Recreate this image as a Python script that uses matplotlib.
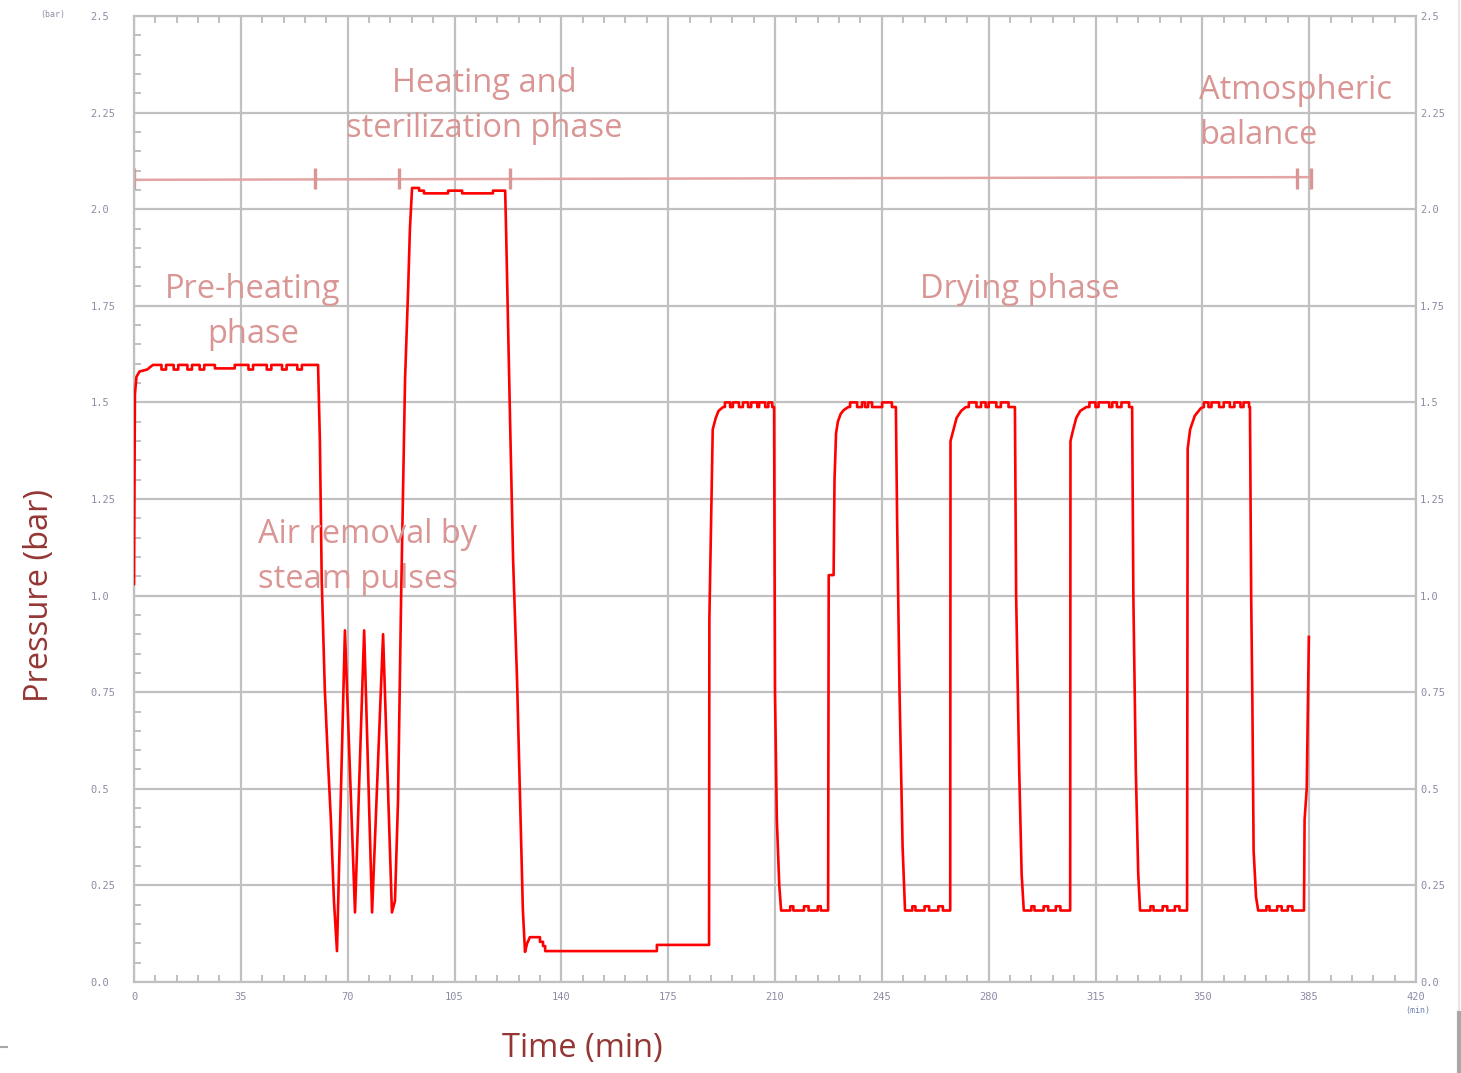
############################## IMPORTS ##############################
import numpy as np
import matplotlib
matplotlib.use("Agg")
import matplotlib.pyplot as plt
from matplotlib.ticker import MultipleLocator
from matplotlib.lines import Line2D
################################ FIN ################################

############################### DATA ###############################
## Pre-heating plateau (time in min, pressure in bar)
preheatT = [0.0, 0.3, 0.8, 1.8, 4.3, 6.2,
            9.0, 9.0, 10.5, 10.5,
            13.0, 13.0, 14.5, 14.5,
            17.5, 17.5, 19.0, 19.0,
            21.5, 21.5, 23.0, 23.0,
            26.5, 26.5, 33.0, 33.0,
            37.5, 37.5, 39.0, 39.0,
            43.5, 43.5, 45.0, 45.0,
            48.5, 48.5, 50.0, 50.0,
            53.5, 53.5, 55.0, 55.0,
            60.3]
preheatP = [1.03, 1.52, 1.566, 1.58, 1.585, 1.597,
            1.597, 1.585, 1.585, 1.597,
            1.597, 1.585, 1.585, 1.597,
            1.597, 1.585, 1.585, 1.597,
            1.597, 1.585, 1.585, 1.597,
            1.597, 1.588, 1.588, 1.597,
            1.597, 1.585, 1.585, 1.597,
            1.597, 1.585, 1.585, 1.597,
            1.597, 1.585, 1.585, 1.597,
            1.597, 1.585, 1.585, 1.597,
            1.597]

## Air removal by steam pulses
pulseT = [60.9, 61.5, 62.5, 63.5, 64.5, 65.5, 66.5, 69.1, 72.4, 75.4,
          78.0, 81.6, 84.5, 85.5, 86.5, 87.5, 88.8, 89.8, 90.4, 91.1]
pulseP = [1.40, 1.04, 0.76, 0.58, 0.42, 0.21, 0.08, 0.91, 0.18, 0.91,
          0.18, 0.90, 0.18, 0.21, 0.47, 0.99, 1.56, 1.79, 1.95, 2.055]

## Heating and sterilization plateau + fall
sterT = [93.4, 93.4, 95.0, 95.0, 102.9, 102.9, 107.5, 107.5, 117.6, 117.6, 121.6,
         121.9, 123.2, 124.2, 125.5, 126.5, 127.4, 128.1]
sterP = [2.055, 2.048, 2.048, 2.041, 2.041, 2.048, 2.048, 2.041, 2.041, 2.048, 2.048,
         1.946, 1.454, 1.092, 0.78, 0.47, 0.186, 0.078]

## Low pressure hold before drying
lowT = [128.8, 129.7, 133.0, 133.0, 134.0, 134.0, 134.7, 134.7, 171.3, 171.3, 188.4]
lowP = [0.100, 0.116, 0.116, 0.104, 0.104, 0.093, 0.093, 0.080, 0.080, 0.096, 0.096]

## Drying cycles 1..5
dry1T = [188.5, 189.6, 190.6, 191.5, 193.0,
         193.6, 193.6, 195.3, 195.3, 196.2, 196.2, 198.2, 198.2,
         199.5, 199.5, 201.2, 201.2, 202.2, 202.2, 204.2, 204.2,
         204.8, 204.8, 206.8, 206.8, 207.8, 207.8, 209.1, 209.1,
         209.7, 210.0, 210.6, 211.4, 212.0,
         215.0, 215.0, 216.0, 216.0, 219.5, 219.5, 221.0, 221.0,
         224.0, 224.0, 225.0, 225.0, 227.4]
dry1P = [0.94, 1.43, 1.46, 1.478, 1.488,
         1.488, 1.5, 1.5, 1.488, 1.488, 1.5, 1.5, 1.488,
         1.488, 1.5, 1.5, 1.488, 1.488, 1.5, 1.5, 1.488,
         1.488, 1.5, 1.5, 1.488, 1.488, 1.5, 1.5, 1.488,
         1.488, 0.75, 0.42, 0.25, 0.185,
         0.185, 0.196, 0.196, 0.185, 0.185, 0.196, 0.196, 0.185,
         0.185, 0.196, 0.196, 0.185, 0.185]

dry2T = [227.6, 229.2, 229.5, 230.0, 230.6, 231.5, 232.5, 234.0,
         234.6, 234.6, 236.9, 236.9, 238.5, 238.5, 239.5, 239.5,
         240.5, 240.5, 241.8, 241.8, 245.1, 245.1, 248.3, 248.3,
         249.6, 250.0, 250.8, 251.8, 252.6,
         255.0, 255.0, 256.0, 256.0, 259.0, 259.0, 260.5, 260.5,
         263.5, 263.5, 265.0, 265.0, 267.4]
dry2P = [1.053, 1.053, 1.30, 1.42, 1.45, 1.47, 1.48, 1.488,
         1.488, 1.5, 1.5, 1.488, 1.488, 1.5, 1.5, 1.488,
         1.488, 1.5, 1.5, 1.488, 1.488, 1.5, 1.5, 1.488,
         1.488, 1.2, 0.75, 0.35, 0.185,
         0.185, 0.196, 0.196, 0.185, 0.185, 0.196, 0.196, 0.185,
         0.185, 0.196, 0.196, 0.185, 0.185]

dry3T = [267.5, 268.5, 269.5, 271.0, 272.5,
         273.5, 273.5, 276.0, 276.0, 277.5, 277.5, 279.0, 279.0,
         280.0, 280.0, 282.5, 282.5, 284.0, 284.0, 286.5, 286.5,
         288.6, 289.0, 290.0, 290.8, 291.5,
         294.0, 294.0, 295.0, 295.0, 298.0, 298.0, 299.5, 299.5,
         302.0, 302.0, 303.5, 303.5, 306.7]
dry3P = [1.40, 1.43, 1.46, 1.478, 1.488,
         1.488, 1.5, 1.5, 1.488, 1.488, 1.5, 1.5, 1.488,
         1.488, 1.5, 1.5, 1.488, 1.488, 1.5, 1.5, 1.488,
         1.488, 1.0, 0.55, 0.28, 0.185,
         0.185, 0.196, 0.196, 0.185, 0.185, 0.196, 0.196, 0.185,
         0.185, 0.196, 0.196, 0.185, 0.185]

dry4T = [306.8, 307.7, 308.7, 310.0, 312.0,
         313.0, 313.0, 315.0, 315.0, 316.0, 316.0, 319.5, 319.5,
         320.5, 320.5, 322.0, 322.0, 323.5, 323.5, 326.0, 326.0,
         327.0, 327.4, 328.2, 329.0, 329.6,
         333.0, 333.0, 334.0, 334.0, 337.0, 337.0, 338.5, 338.5,
         341.0, 341.0, 342.5, 342.5, 345.0]
dry4P = [1.40, 1.43, 1.46, 1.478, 1.488,
         1.488, 1.5, 1.5, 1.488, 1.488, 1.5, 1.5, 1.488,
         1.488, 1.5, 1.5, 1.488, 1.488, 1.5, 1.5, 1.488,
         1.488, 1.0, 0.55, 0.28, 0.185,
         0.185, 0.196, 0.196, 0.185, 0.185, 0.196, 0.196, 0.185,
         0.185, 0.196, 0.196, 0.185, 0.185]

dry5T = [345.2, 346.0, 347.5, 349.5,
         350.5, 350.5, 352.0, 352.0, 353.0, 353.0, 355.5, 355.5,
         357.0, 357.0, 359.0, 359.0, 360.5, 360.5, 362.5, 362.5,
         363.5, 363.5, 365.3, 365.3,
         365.6, 366.0, 366.4, 366.8, 367.6, 368.3,
         371.0, 371.0, 372.0, 372.0, 374.5, 374.5, 376.0, 376.0,
         378.0, 378.0, 379.5, 379.5, 383.3,
         383.5, 384.2, 384.9]
dry5P = [1.38, 1.43, 1.465, 1.485,
         1.488, 1.5, 1.5, 1.488, 1.488, 1.5, 1.5, 1.488,
         1.488, 1.5, 1.5, 1.488, 1.488, 1.5, 1.5, 1.488,
         1.488, 1.5, 1.5, 1.488,
         1.488, 1.0, 0.72, 0.34, 0.22, 0.185,
         0.185, 0.196, 0.196, 0.185, 0.185, 0.196, 0.196, 0.185,
         0.185, 0.196, 0.196, 0.185, 0.185,
         0.42, 0.50, 0.893]

## Phase bar at the top (tick marks in min)
phaseTicks = [0.0, 59.3, 86.8, 123.1, 381.0, 385.5]
phaseBarT = [0.0, 385.5]
phaseBarP = [2.076, 2.083]

## Axis ticks
xTicks = [0, 35, 70, 105, 140, 175, 210, 245, 280, 315, 350, 385, 420]
xTickLabels = ["0", "35", "70", "105", "140", "175", "210", "245", "280", "315", "350", "385", "420"]
yTicks = [0.0, 0.25, 0.5, 0.75, 1.0, 1.25, 1.5, 1.75, 2.0, 2.25, 2.5]
yTickLabels = ["0.0", "0.25", "0.5", "0.75", "1.0", "1.25", "1.5", "1.75", "2.0", "2.25", "2.5"]
################################ FIN ################################

############################ FIGURE SETUP ############################
W, H = 1461, 1073
fig = plt.figure(figsize=(W / 100, H / 100), dpi=100)
fig.patch.set_facecolor("white")
ax = fig.add_axes([134 / W, 1 - 982 / H, (1416 - 134) / W, (982 - 16) / H])

gridCol = "#c0c0c0"
tickCol = "#8c8ca4"
noteCol = "#d99694"
labelCol = "#943634"
noteFont = "Open Sans"
noteSize = 23.5
noteSpacing = 1.48
################################ FIN ################################

############################# PLOTTING #############################
timeAll = np.concatenate([preheatT, pulseT, [91.1], sterT, lowT, dry1T, dry2T, dry3T, dry4T, dry5T])
pressAll = np.concatenate([preheatP, pulseP, [2.055], sterP, lowP, dry1P, dry2P, dry3P, dry4P, dry5P])

ax.plot(timeAll, pressAll, color="#ff0000", lw=1.9, zorder=3)

## phase bar
ax.plot(phaseBarT, phaseBarP, color="#e3a4a4", lw=1.8, zorder=2)
ax.vlines(phaseTicks, 2.052, 2.106, color=noteCol, lw=2.4, zorder=2)

ax.set_xlim(0, 420)
ax.set_ylim(0, 2.5)
ax.set_xticks(xTicks)
ax.set_xticklabels(xTickLabels)
ax.set_yticks(yTicks)
ax.set_yticklabels(yTickLabels)
ax.xaxis.set_minor_locator(MultipleLocator(7))
ax.yaxis.set_minor_locator(MultipleLocator(0.05))
ax.grid(which="major", color=gridCol, lw=1.6, zorder=1)
for sp in ax.spines.values():
    sp.set_color(gridCol)
    sp.set_linewidth(1.6)

ax.tick_params(which="minor", direction="in", length=5, width=1.4, color=gridCol,
               top=True, right=True)
ax.tick_params(which="major", length=0, labelsize=7.5, labelcolor=tickCol)
ax.tick_params(axis="y", which="major", pad=31.5)
ax.tick_params(axis="x", which="major", pad=7)
for lbl in ax.get_yticklabels() + ax.get_xticklabels():
    lbl.set_family("DejaVu Sans Mono")
for lbl in ax.get_yticklabels():
    lbl.set_horizontalalignment("left")

## right hand labels
ax2 = ax.twinx()
ax2.set_ylim(0, 2.5)
ax2.set_yticks(yTicks)
ax2.set_yticklabels(yTickLabels, family="DejaVu Sans Mono")
ax2.tick_params(length=0, labelsize=7.5, labelcolor=tickCol, pad=3)
for sp in ax2.spines.values():
    sp.set_visible(False)

## unit labels from the instrument software
fig.text(40 / W, 1 - 14 / H, "(bar)", fontsize=6, color=tickCol, va="center", family="DejaVu Sans Mono")
fig.text(1405 / W, 1 - 1011 / H, "(min)", fontsize=6, color="#7080b0", va="center", family="DejaVu Sans Mono")

## phase annotations
ax.text(114.7, 2.267, "Heating and\nsterilization phase", ha="center", va="center",
        fontsize=noteSize, color=noteCol, family=noteFont, linespacing=noteSpacing)
ax.text(348.9, 2.248, "Atmospheric\nbalance", ha="left", va="center",
        fontsize=noteSize, color=noteCol, family=noteFont, linespacing=noteSpacing)
ax.text(39.0, 1.735, "Pre-heating\nphase", ha="center", va="center",
        fontsize=noteSize, color=noteCol, family=noteFont, linespacing=noteSpacing)
ax.text(290.3, 1.791, "Drying phase", ha="center", va="center",
        fontsize=noteSize, color=noteCol, family=noteFont)
ax.text(40.6, 1.099, "Air removal by\nsteam pulses", ha="left", va="center",
        fontsize=noteSize, color=noteCol, family=noteFont, linespacing=noteSpacing)

## axis titles
fig.text(40 / W, 1 - 595 / H, "Pressure (bar)", rotation=90, ha="center", va="center",
         fontsize=23.5, color=labelCol, family=noteFont)
fig.text(582 / W, 1 - 1048 / H, "Time (min)", ha="center", va="center",
         fontsize=23.5, color=labelCol, family=noteFont)

## screenshot frame remains
fig.add_artist(Line2D([1459 / W, 1459 / W], [0, 1], color="#e6e6e6", lw=1.5))
fig.add_artist(Line2D([1459 / W, 1459 / W], [0, 1 - 1013 / H], color="#a8a8a8", lw=3))
fig.add_artist(Line2D([0, 7 / W], [1 - 1047 / H, 1 - 1047 / H], color="#a8a8a8", lw=1.5))

fig.savefig("out.png", dpi=100, facecolor="white")
################################ FIN ################################
